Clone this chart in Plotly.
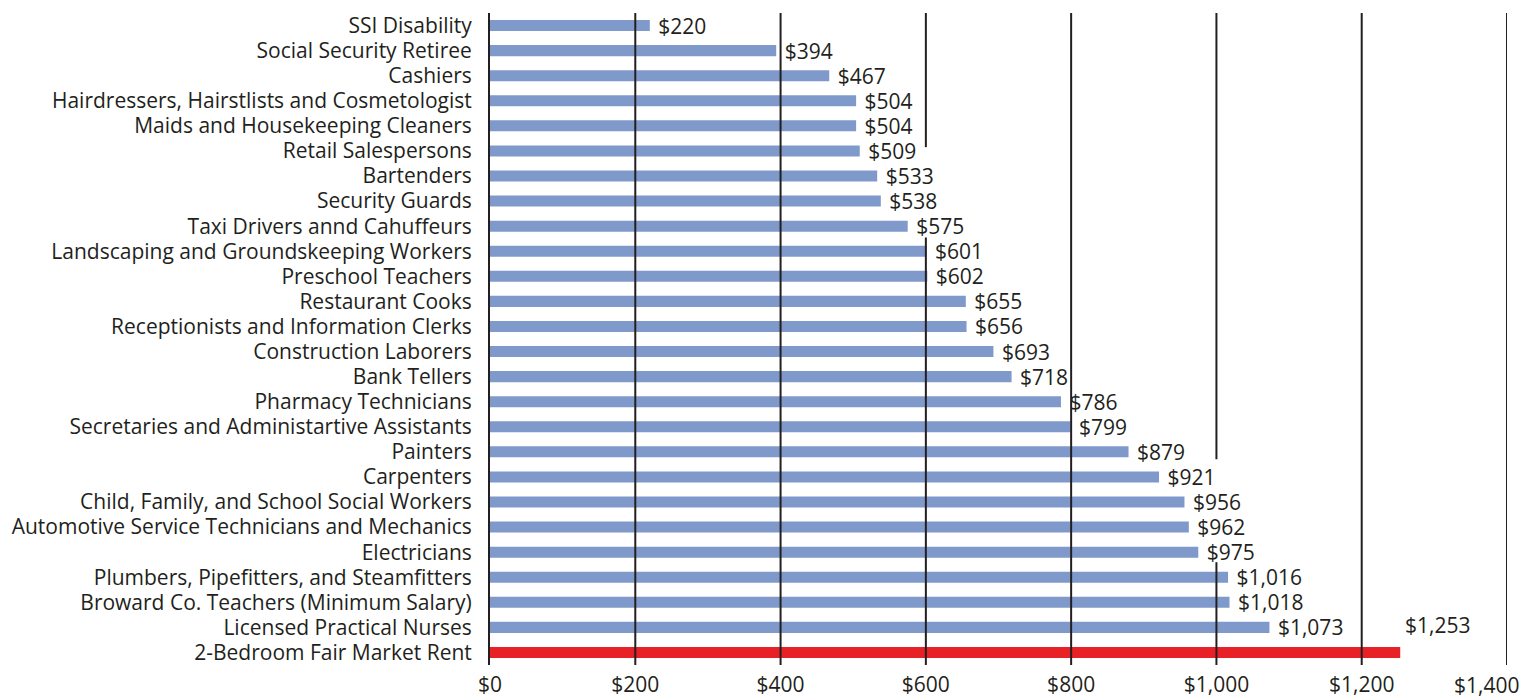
import plotly.graph_objects as go

categories = [
    "SSI Disability",
    "Social Security Retiree",
    "Cashiers",
    "Hairdressers, Hairstlists and Cosmetologist",
    "Maids and Housekeeping Cleaners",
    "Retail Salespersons",
    "Bartenders",
    "Security Guards",
    "Taxi Drivers annd Cahuffeurs",
    "Landscaping and Groundskeeping Workers",
    "Preschool Teachers",
    "Restaurant Cooks",
    "Receptionists and Information Clerks",
    "Construction Laborers",
    "Bank Tellers",
    "Pharmacy Technicians",
    "Secretaries and Administartive Assistants",
    "Painters",
    "Carpenters",
    "Child, Family, and School Social Workers",
    "Automotive Service Technicians and Mechanics",
    "Electricians",
    "Plumbers, Pipefitters, and Steamfitters",
    "Broward Co. Teachers (Minimum Salary)",
    "Licensed Practical Nurses",
    "2-Bedroom Fair Market Rent",
]
values = [220, 394, 467, 504, 504, 509, 533, 538, 575, 601, 602, 655, 656,
          693, 718, 786, 799, 879, 921, 956, 962, 975, 1016, 1018, 1073, 1253]

tick_values = [0, 200, 400, 600, 800, 1000, 1200, 1400]
tick_labels = ["$0", "$200", "$400", "$600", "$800", "$1,000", "$1,200", "$1,400"]

BLUE = "#7f99cb"
RED = "#e82127"
INK = "#231f20"
FONT = "Open Sans"
FS = 21

n = len(categories)
colors = [BLUE] * (n - 1) + [RED]
texts = [" $" + format(v, ",") for v in values[:-1]] + [""]

fig = go.Figure()
fig.add_trace(go.Bar(
    y=categories,
    x=values,
    orientation="h",
    marker=dict(color=colors, line=dict(width=0)),
    width=0.44,
    text=texts,
    textposition="outside",
    constraintext="none",
    cliponaxis=False,
    textfont=dict(family=FONT, size=FS, color=INK),
    hoverinfo="skip",
))

# label of the rent bar, set above and to the right of the bar end
fig.add_annotation(
    x=values[-1], y=categories[-1], xref="x", yref="y",
    text="$" + format(values[-1], ","),
    showarrow=False, xanchor="left", yanchor="middle",
    xshift=3, yshift=27,
    font=dict(family=FONT, size=FS, color=INK),
)

# last tick label, pulled left so it stays inside the page
fig.add_annotation(
    x=tick_values[-1], y=0, xref="x", yref="paper",
    text=tick_labels[-1], showarrow=False,
    xanchor="center", yanchor="top", xshift=-21, yshift=-4,
    font=dict(family=FONT, size=FS, color=INK),
)

# vertical grid lines drawn over the bars, some with gaps
grid_gaps = {600: (4.85, 8.45), 1000: (17.3, 21.4)}
top, bottom = -0.56, n - 0.5
for tv in tick_values[1:]:
    segs = [(top, bottom)]
    if tv in grid_gaps:
        g0, g1 = grid_gaps[tv]
        segs = [(top, g0), (g1, bottom)]
    for a, b in segs:
        fig.add_shape(type="line", xref="x", yref="y", x0=tv, x1=tv, y0=a, y1=b,
                      line=dict(color=INK, width=2), layer="above")

fig.update_layout(
    width=1531, height=698,
    margin=dict(l=490, r=24, t=13, b=33),
    plot_bgcolor="white", paper_bgcolor="white",
    showlegend=False,
    font=dict(family=FONT, size=FS, color=INK),
    bargap=0.56,
)
fig.update_xaxes(
    range=[0, 1400], tickvals=tick_values,
    ticktext=tick_labels[:-1] + [""],
    showgrid=False, zeroline=False, showline=False, ticks="",
    tickfont=dict(family=FONT, size=FS, color=INK),
    ticklabelstandoff=5, automargin=False,
)
fig.update_yaxes(
    categoryorder="array", categoryarray=categories,
    range=[n - 0.5, -0.5],
    showgrid=False, zeroline=False, showline=True, linecolor=INK, linewidth=2,
    ticks="", ticklabelstandoff=12,
    tickfont=dict(family=FONT, size=FS, color=INK),
    automargin=False,
)

fig.write_html("out.html", config={"displayModeBar": False},
               post_script="document.body.style.margin='0';")
